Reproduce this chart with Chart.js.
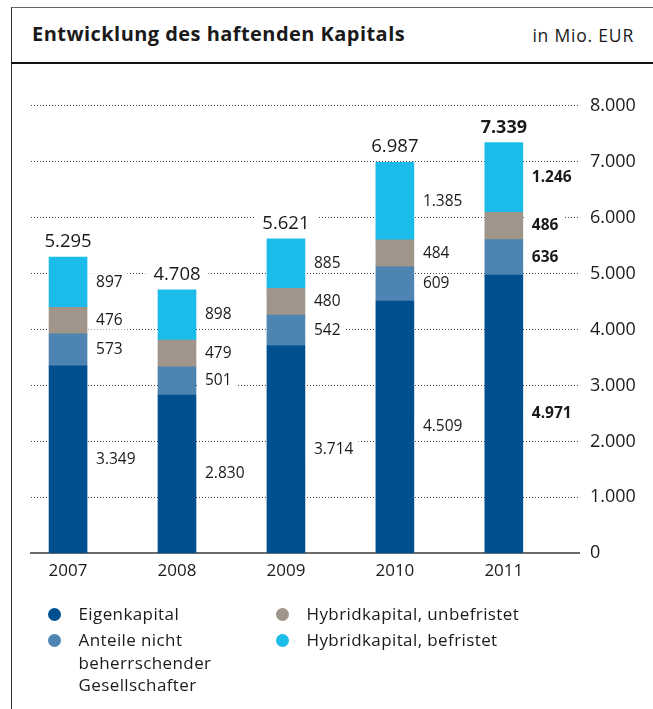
<!DOCTYPE html>
<html lang="de">
<head>
<meta charset="utf-8">
<title>Entwicklung des haftenden Kapitals</title>
<script src="https://cdn.jsdelivr.net/npm/chart.js@4.4.1/dist/chart.umd.min.js"></script>
<style>
  html, body { margin: 0; padding: 0; background: #fff; }
  body { width: 653px; height: 709px; position: relative; overflow: hidden; font-family: "Open Sans", sans-serif; color: #1a1a1a; }
  #frame { position: absolute; left: 11px; top: 7px; width: 660px; height: 720px; border-left: 1.5px solid #333; border-top: 1.5px solid #666; }
  #rule { position: absolute; left: 11px; top: 62px; width: 660px; border-top: 2.5px solid #111; }
  #title { position: absolute; left: 32px; top: 21px; font-size: 20px; font-weight: bold; line-height: 26px; letter-spacing: 0.45px; }
  #unit { position: absolute; right: 19px; top: 22px; font-size: 17.5px; line-height: 26px; letter-spacing: 0.8px; }
  #chart { position: absolute; left: 0; top: 0; }
  #legend { position: absolute; left: 48px; top: 603px; display: grid; grid-template-columns: 228px auto; grid-template-rows: auto auto; grid-auto-flow: column; row-gap: 3.5px; font-size: 17px; line-height: 22.5px; letter-spacing: 0.4px; }
  .item { display: flex; align-items: flex-start; }
  .dot { width: 13px; height: 13px; border-radius: 50%; margin-top: 4.75px; margin-right: 17.5px; flex: none; }
  .narrow .txt { max-width: 145px; }
</style>
</head>
<body>
<div id="frame"></div>
<div id="rule"></div>
<div id="title">Entwicklung des haftenden Kapitals</div>
<div id="unit">in Mio. EUR</div>
<canvas id="chart" width="653" height="709"></canvas>
<div id="legend"></div>

<script>
// Daten (in Mio. EUR)
const years = ['2007', '2008', '2009', '2010', '2011'];
const eigenkapital = [3349, 2830, 3714, 4509, 4971];
const anteileNichtBeherrschend = [573, 501, 542, 609, 636];
const hybridUnbefristet = [476, 479, 480, 484, 486];
const hybridBefristet = [897, 898, 885, 1385, 1246];
const yTicks = [0, 1000, 2000, 3000, 4000, 5000, 6000, 7000, 8000];

const seriesNames = ['Eigenkapital', 'Anteile nicht beherrschender Gesellschafter', 'Hybridkapital, unbefristet', 'Hybridkapital, befristet'];
const seriesColors = ['#00508f', '#4d84b2', '#a0958a', '#1cbcea'];
const highlightIndex = 4; // 2011 fett

const FONT = '"Open Sans", sans-serif';
const fmt = v => String(v).replace(/\B(?=(\d{3})+(?!\d))/g, '.');

const seriesValues = [eigenkapital, anteileNichtBeherrschend, hybridUnbefristet, hybridBefristet];
const datasets = seriesValues.map((vals, s) => ({
    label: seriesNames[s],
    data: vals.map((v, i) => ({ x: i, y: v })),
    backgroundColor: seriesColors[s],
    borderWidth: 0,
    barThickness: 38
}));

// Beschriftungen rechts neben den Segmenten + Summen über den Säulen
const labelPlugin = {
    id: 'segmentLabels',
    afterDatasetsDraw(chart) {
        const ctx = chart.ctx;
        ctx.save();
        ctx.textBaseline = 'middle';
        ctx.textAlign = 'left';
        chart.data.datasets.forEach((ds, di) => {
            const meta = chart.getDatasetMeta(di);
            meta.data.forEach((bar, i) => {
                const txt = fmt(ds.data[i].y);
                ctx.font = (i === highlightIndex ? 'bold ' : '') + '15.5px ' + FONT;
                const right = bar.x + bar.width / 2;
                const y = (bar.y + bar.base) / 2;
                const w = ctx.measureText(txt).width;
                ctx.fillStyle = '#fff';
                ctx.fillRect(right + 1, y - 9, w + 13, 18);
                ctx.fillStyle = '#1a1a1a';
                ctx.fillText(txt, right + 9, y);
            });
        });

        const topMeta = chart.getDatasetMeta(chart.data.datasets.length - 1);
        ctx.textAlign = 'center';
        ctx.textBaseline = 'alphabetic';
        topMeta.data.forEach((bar, i) => {
            const total = seriesValues.reduce((acc, arr) => acc + arr[i], 0);
            const txt = fmt(total);
            ctx.font = (i === highlightIndex ? 'bold 18px ' : '18.5px ') + FONT;
            const w = ctx.measureText(txt).width;
            const base = bar.y - 10;
            ctx.fillStyle = '#fff';
            ctx.fillRect(bar.x - w / 2 - 8, base - 15, w + 16, 19);
            ctx.fillStyle = '#1a1a1a';
            ctx.fillText(txt, bar.x, base);
        });
        ctx.restore();
    }
};

const chart = new Chart(document.getElementById('chart'), {
    type: 'bar',
    data: { datasets },
    options: {
        responsive: false,
        animation: false,
        events: [],
        layout: { padding: { left: 31, top: 105.7, right: 0, bottom: 115.7 } },
        plugins: { legend: { display: false }, tooltip: { enabled: false } },
        scales: {
            x: {
                type: 'linear',
                stacked: true,
                offset: false,
                min: -0.34,
                max: 4.69,
                grid: { display: false, drawTicks: false, offset: false },
                border: { display: true, color: '#6b6b6b', width: 2 },
                afterBuildTicks: scale => { scale.ticks = years.map((y, i) => ({ value: i })); },
                afterFit: scale => { scale.height = 40; scale.paddingLeft = 0; scale.paddingRight = 0; },
                ticks: {
                    padding: 8,
                    color: '#1a1a1a',
                    font: { family: FONT, size: 17 },
                    maxRotation: 0,
                    callback: v => years[v]
                }
            },
            y: {
                position: 'right',
                stacked: true,
                min: 0,
                max: 8000,
                grid: { color: '#444', lineWidth: 1, drawTicks: false },
                border: { display: false, dash: [1, 2] },
                afterBuildTicks: scale => { scale.ticks = yTicks.map(v => ({ value: v })); },
                afterFit: scale => { scale.width = 74; scale.paddingTop = 0; scale.paddingBottom = 0; },
                ticks: {
                    padding: 11,
                    color: '#1a1a1a',
                    font: { family: FONT, size: 18 },
                    callback: v => fmt(v)
                }
            }
        }
    },
    plugins: [labelPlugin]
});

// Legende (HTML, damit der lange Eintrag umbricht)
const legendEl = document.getElementById('legend');
seriesNames.forEach((name, i) => {
    const item = document.createElement('div');
    item.className = i < 2 ? 'item narrow' : 'item';
    item.innerHTML = `<span class="dot" style="background:${seriesColors[i]}"></span><span class="txt">${name}</span>`;
    legendEl.appendChild(item);
});
</script>
</body>
</html>
